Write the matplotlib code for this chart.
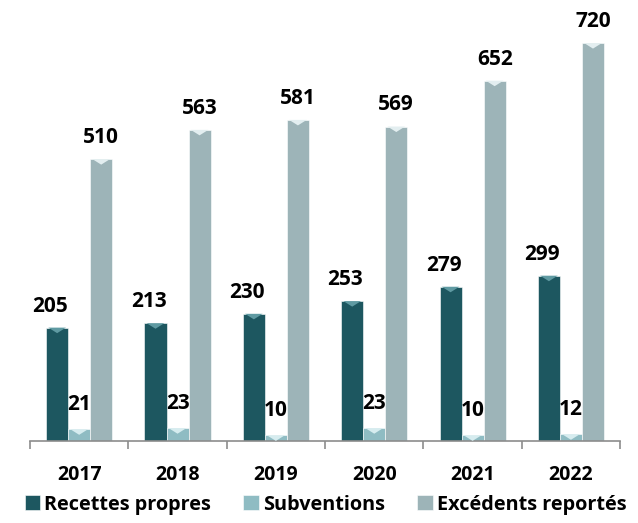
import numpy as np
import matplotlib

matplotlib.use("Agg")
import matplotlib.pyplot as plt
from matplotlib.patches import Polygon

plt.rcParams["font.family"] = ["Open Sans", "DejaVu Sans"]
plt.rcParams["font.weight"] = "bold"

years = ["2017", "2018", "2019", "2020", "2021", "2022"]
recettes = [205, 213, 230, 253, 279, 299]
subventions = [21, 23, 10, 23, 10, 12]
excedents = [510, 563, 581, 569, 652, 720]

series = [
    ("Recettes propres", recettes, "#1d5760", "#5f9aa2"),
    ("Subventions", subventions, "#8fbcc3", "#d6ecef"),
    ("Excédents reportés", excedents, "#9db4b8", "#e3eef0"),
]

fig = plt.figure(figsize=(6.38, 5.23), dpi=100)
ax = fig.add_axes([0.047, 0.157, 0.925, 0.824])

x = np.arange(len(years))
w = 0.224
handles = []
for i, (name, vals, color, light) in enumerate(series):
    pos = x + (i - 1) * w
    bars = ax.bar(pos, vals, w, color=color, edgecolor="white", linewidth=0.4,
                  label=name, zorder=2)
    handles.append(bars)
    # bevelled top highlight
    for b in bars:
        bx, bw, bh = b.get_x(), b.get_width(), b.get_height()
        tri = Polygon([(bx + 0.1 * bw, bh), (bx + 0.9 * bw, bh),
                       (bx + 0.5 * bw, bh - 10)],
                      closed=True, color=light, zorder=3, lw=0)
        ax.add_patch(tri)
    dx = -5 if i == 0 else 0
    for px, v in zip(pos, vals):
        dy = 10 if v < 50 else 8
        ax.annotate(str(v), (px, v), xytext=(dx, dy), textcoords="offset points",
                    ha="center", va="bottom", fontsize=15, fontweight="bold",
                    color="black", zorder=4)

ax.set_xlim(-0.5, len(years) - 0.5)
ax.set_ylim(0, 780)
ax.set_yticks([])
for s in ("top", "right", "left"):
    ax.spines[s].set_visible(False)
ax.spines["bottom"].set_color("#8c8c8c")
ax.spines["bottom"].set_linewidth(1.2)

ax.set_xticks(np.arange(len(years) + 1) - 0.5)
ax.set_xticklabels([])
ax.tick_params(axis="x", which="major", length=6, width=1.2, color="#8c8c8c")
ax.set_xticks(x, minor=True)
ax.set_xticklabels(years, minor=True, fontsize=14, fontweight="bold")
ax.tick_params(axis="x", which="minor", length=0, pad=17)

fig.legend(handles=handles, loc="center", bbox_to_anchor=(0.51, 0.035), ncol=3,
           frameon=False, fontsize=14.3, handlelength=0.8, handleheight=0.8,
           handletextpad=0.2, columnspacing=1.6)

fig.savefig("out.png", dpi=100)
